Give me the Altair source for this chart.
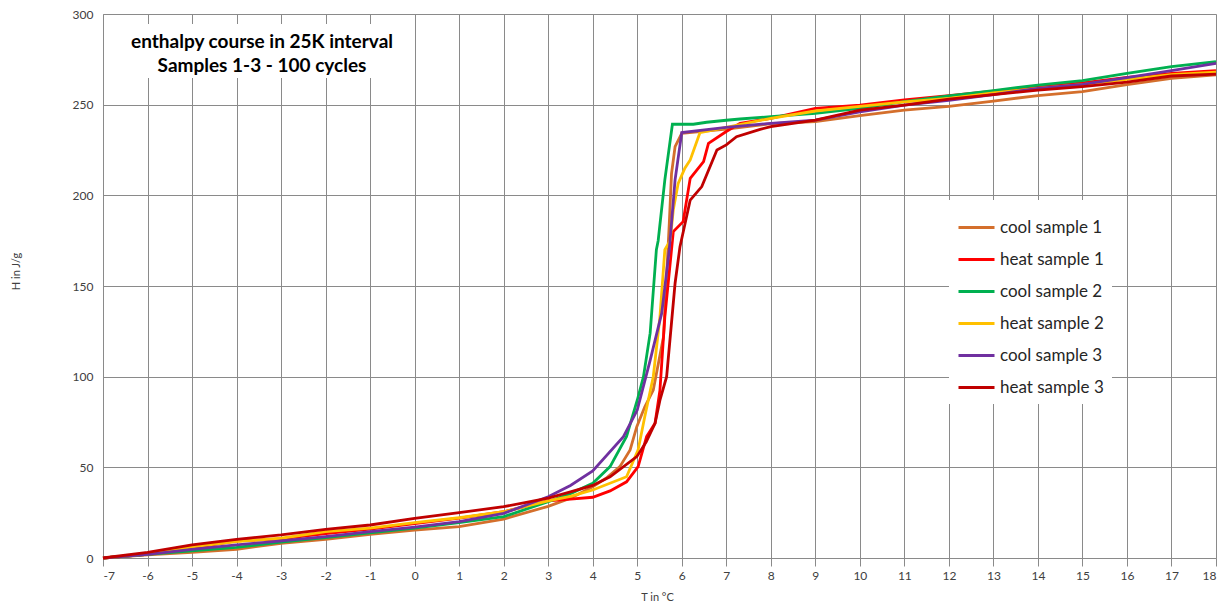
import altair as alt
import pandas as pd

series_names = ["cool sample 1", "heat sample 1", "cool sample 2",
                "heat sample 2", "cool sample 3", "heat sample 3"]
series_colors = ["#D46F2C", "#FF0000", "#00B050", "#FFC000", "#7030A0", "#C00000"]

low_T = [-7, -6, -5, -4, -3, -2, -1, 0, 1, 2, 3]

cool1_T = low_T + [3.5, 4, 4.3, 4.61, 4.84, 4.99, 5.17, 5.36, 5.59, 5.72, 5.77, 5.85, 6.0,
                   7, 8, 9, 10, 11, 12, 13, 14, 15, 16, 17, 18]
cool1_H = [0, 1.8, 3.1, 4.8, 8.1, 10.3, 13, 15.4, 17.3, 21.5, 28.5,
           33, 39.3, 44, 50.4, 59.6, 72.4, 83.4, 92.6, 122, 184.6, 212, 226.8, 234.2,
           236.5, 239.5, 240.6, 244, 247, 249, 252, 255, 257.2, 261, 264.5, 266.5]

heat1_T = low_T + [3.5, 4, 4.39, 4.76, 5.02, 5.21, 5.40, 5.51, 5.62, 5.77, 5.81, 6.03, 6.19,
                   6.49, 6.6, 7, 7.31, 8, 9, 10, 11, 12, 13, 14, 15, 16, 17, 18]
heat1_H = [0, 2, 5.5, 9.5, 10.5, 13.5, 16, 19, 22, 25.5, 31.5,
           32.5, 33.5, 37, 42, 50.4, 67, 74.3, 92.6, 133, 170, 180, 185.5, 209.4,
           218.6, 228.7, 235.2, 239.7, 242.5, 248, 249.8, 252.6, 255, 257.5, 260, 262,
           265, 267.3, 268.8]

cool2_T = low_T + [3.5, 4.0, 4.39, 4.76, 5.0, 5.14, 5.29, 5.43, 5.47, 5.62, 5.79, 6.26, 6.56,
                   7, 7.31, 8, 9, 10, 11, 12, 13, 14, 15, 16, 17, 18]
cool2_H = [0, 2, 4, 5.9, 8.7, 11.2, 13.8, 16.5, 19.5, 22.8, 31,
           35.5, 41.2, 50.4, 67, 87, 100, 124, 170, 175, 208.5, 239.2, 239.2, 240.3,
           241.4, 242.1, 243.4, 245.2, 248, 251.7, 254.8, 257.8, 260.8, 263.2, 267.3,
           271, 273.7]

heat2_T = low_T + [3.5, 4, 4.76, 5.02, 5.17, 5.36, 5.51, 5.62, 5.74, 5.81, 5.92, 6.07, 6.19,
                   6.41, 7, 8, 9, 10, 11, 12, 13, 14, 15, 16, 17, 18]
heat2_H = [0, 2.3, 6.2, 9, 10.9, 14.5, 16.5, 19.5, 22.2, 25.5, 31.5,
           34, 37.5, 44.8, 59.6, 78, 100, 133, 170, 175, 192, 206.6, 215, 219.5,
           234.6, 237.5, 242.5, 246.5, 249, 251.5, 253.5, 256.5, 259, 261, 264, 266.5, 268]

cool3_T = low_T + [3.5, 4.0, 4.69, 5.0, 5.29, 5.55, 5.72, 5.85, 6.0,
                   7, 8, 9, 10, 11, 12, 13, 14, 15, 16, 17, 18]
cool3_H = [0, 2, 4.8, 7.2, 9.4, 11.8, 14.5, 17, 20, 24.6, 33.8,
           40, 48, 66.9, 81.6, 109, 135, 170, 208.5, 234.6,
           237.5, 239.7, 241.5, 246, 249.8, 252.4, 255.5, 259, 261.2, 264.9, 268.8, 272.8]

heat3_T = low_T + [3.5, 4, 4.39, 4.99, 5.2, 5.40, 5.51, 5.66, 5.85, 5.96, 6.19, 6.45, 6.79,
                   7, 7.23, 7.76, 8, 9, 10, 11, 12, 13, 14, 15, 16, 17, 18]
heat3_H = [0, 3.1, 7.2, 10.3, 12.7, 15.8, 18.2, 21.9, 25, 28.3, 33,
           36.5, 40, 44.8, 55.9, 64, 74.3, 87, 100, 151.5, 171.7, 197.4, 204.8, 225,
           227.8, 232.3, 236.4, 237.9, 241.5, 247, 249.8, 253, 255.5, 258, 260, 262.4,
           265.8, 266.8]

x_ticks = list(range(-7, 19))
y_ticks = [0, 50, 100, 150, 200, 250, 300]
title_lines = ["enthalpy course in 25K interval", "Samples 1-3 - 100 cycles"]

rows = []
for name, Ts, Hs in zip(series_names,
                        [cool1_T, heat1_T, cool2_T, heat2_T, cool3_T, heat3_T],
                        [cool1_H, heat1_H, cool2_H, heat2_H, cool3_H, heat3_H]):
    for i, (t, h) in enumerate(zip(Ts, Hs)):
        rows.append({"series": name, "T": t, "H": h, "idx": i})
df = pd.DataFrame(rows)

FONT = "Lato"
GRID = "#8a8a8a"

lines = alt.Chart(df).mark_line(strokeWidth=2.8).encode(
    x=alt.X("T:Q", scale=alt.Scale(domain=[-7, 18], nice=False, zero=False),
            axis=alt.Axis(values=x_ticks, title="T in °C", grid=True, gridColor=GRID,
                          domainColor=GRID, tickColor=GRID, tickSize=8, labelPadding=4,
                          labelExpr="datum.value + ''",
                          labelFontSize=12, labelColor="#404040", labelFont=FONT,
                          titleFont=FONT, titleFontSize=11, titleFontWeight="normal",
                          titleColor="#404040", titleX=554, titleY=39,
                          titleBaseline="middle", titleAlign="center")),
    y=alt.Y("H:Q", scale=alt.Scale(domain=[0, 300], nice=False),
            axis=alt.Axis(values=y_ticks, title="H in J/g", grid=True, gridColor=GRID,
                          domainColor=GRID, ticks=False, labelPadding=10,
                          labelFontSize=12, labelColor="#404040", labelFont=FONT,
                          titleFont=FONT, titleFontSize=11, titleFontWeight="normal",
                          titleColor="#404040", titleAngle=-90, titleX=-87, titleY=257,
                          titleBaseline="middle", titleAlign="center")),
    color=alt.Color("series:N",
                    scale=alt.Scale(domain=series_names, range=series_colors),
                    legend=alt.Legend(title=None, orient="none", legendX=846, legendY=186,
                                      fillColor="white", padding=8, symbolType="stroke",
                                      symbolSize=1296, symbolStrokeWidth=3, rowPadding=4,
                                      labelFontSize=17, labelFont=FONT, labelColor="#262626",
                                      labelOffset=4)),
    order="idx:Q",
)

box = alt.Chart(pd.DataFrame({"k": [0]})).mark_rect(color="white").encode(
    x=alt.value(16), x2=alt.value(308), y=alt.value(10), y2=alt.value(64)
)

chart = alt.layer(box, lines).properties(
    width=1113, height=544,
    title=alt.TitleParams(text=title_lines, fontSize=19, font=FONT, fontWeight="bold",
                          color="#000000", anchor="start", align="center", dx=159,
                          dy=72, frame="group", lineHeight=24),
    autosize=alt.AutoSizeParams(type="none"),
    padding={"left": 103, "top": 14, "right": 15, "bottom": 46},
).configure_view(strokeWidth=0).configure(background="white")

chart.save("out.html", embed_options={"renderer": "svg", "actions": False})
